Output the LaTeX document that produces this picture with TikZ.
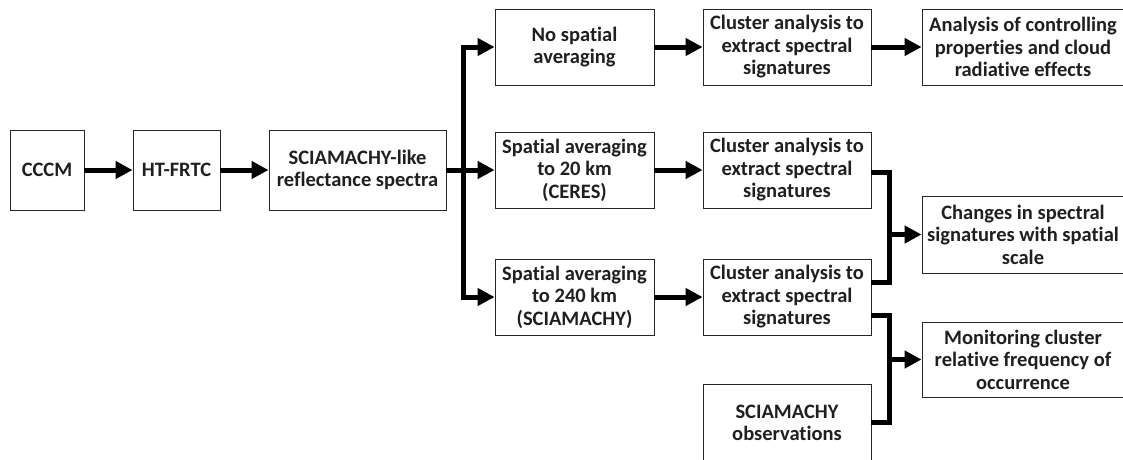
\documentclass[tikz,border=0pt]{standalone}
\usepackage{fontspec}
\setmainfont[Ligatures=NoCommon]{Carlito}
\usetikzlibrary{arrows.meta}
\begin{document}
\begin{tikzpicture}[x=1pt,y=-1pt,
  box/.style={draw=black!85,line width=0.9pt,align=center,inner sep=0pt,
    font=\fontsize{20.5}{22.5}\selectfont\bfseries,text=black!88},
  conn/.style={line width=5pt,line join=miter},
  arr/.style={conn,-{Triangle[length=17pt,width=17pt]}}]
\useasboundingbox (0,0) rectangle (1123,459);
\clip (0,0) rectangle (1123,459);
\node[box,minimum width=74pt,minimum height=80pt] (cccm) at (47,170) {CCCM};
\node[box,minimum width=87pt,minimum height=80pt] (ht) at (176.5,170) {HT-FRTC};
\node[box,minimum width=177pt,minimum height=80pt] (scia) at (357.5,170) {SCIAMACHY-like\\reflectance spectra};
\node[box,minimum width=159pt,minimum height=76pt] (nsa) at (574.5,47) {No spatial\\averaging};
\node[box,minimum width=159pt,minimum height=76pt] (s20) at (574.5,170) {Spatial averaging\\to 20 km\\(CERES)};
\node[box,minimum width=159pt,minimum height=76pt] (s240) at (574.5,297) {Spatial averaging\\to 240 km\\(SCIAMACHY)};
\node[box,minimum width=168pt,minimum height=76pt] (cl1) at (787,47) {Cluster analysis to\\extract spectral\\signatures};
\node[box,minimum width=168pt,minimum height=76pt] (cl2) at (787,170) {Cluster analysis to\\extract spectral\\signatures};
\node[box,minimum width=168pt,minimum height=76pt] (cl3) at (787,297) {Cluster analysis to\\extract spectral\\signatures};
\node[box,minimum width=168pt,minimum height=78pt] (obs) at (787,423) {SCIAMACHY\\observations};
\node[box,minimum width=202pt,minimum height=76pt] (an) at (1023,47) {Analysis of controlling\\properties and cloud\\radiative effects};
\node[box,minimum width=202pt,minimum height=77pt] (ch) at (1023,234.5) {Changes in spectral\\signatures with spatial\\scale};
\node[box,minimum width=202pt,minimum height=75pt] (mon) at (1023,359.5) {Monitoring cluster\\relative frequency of\\occurrence};
\coordinate (tr) at (463,0);
\coordinate (j1a) at (889,172);
\coordinate (j1b) at (889,282);
\coordinate (j2a) at (889,315);
\coordinate (j2b) at (889,422);
\draw[arr] (cccm) -- (ht);
\draw[arr] (ht) -- (scia);
\draw[arr] (scia.east) -- (s20.west);
\draw[arr] (scia.east -| tr) |- (nsa.west);
\draw[arr] (scia.east -| tr) |- (s240.west);
\draw[arr] (nsa) -- (cl1);
\draw[arr] (s20) -- (cl2);
\draw[arr] (s240) -- (cl3);
\draw[arr] (cl1) -- (an);
\draw[conn] (cl2.east |- j1a) -- (j1a) -- (j1b) -- (cl3.east |- j1b);
\draw[arr] (j1a |- ch.west) -- (ch.west);
\draw[conn] (cl3.east |- j2a) -- (j2a) -- (j2b) -- (obs.east |- j2b);
\draw[arr] (j2a |- mon.west) -- (mon.west);
\end{tikzpicture}
\end{document}
